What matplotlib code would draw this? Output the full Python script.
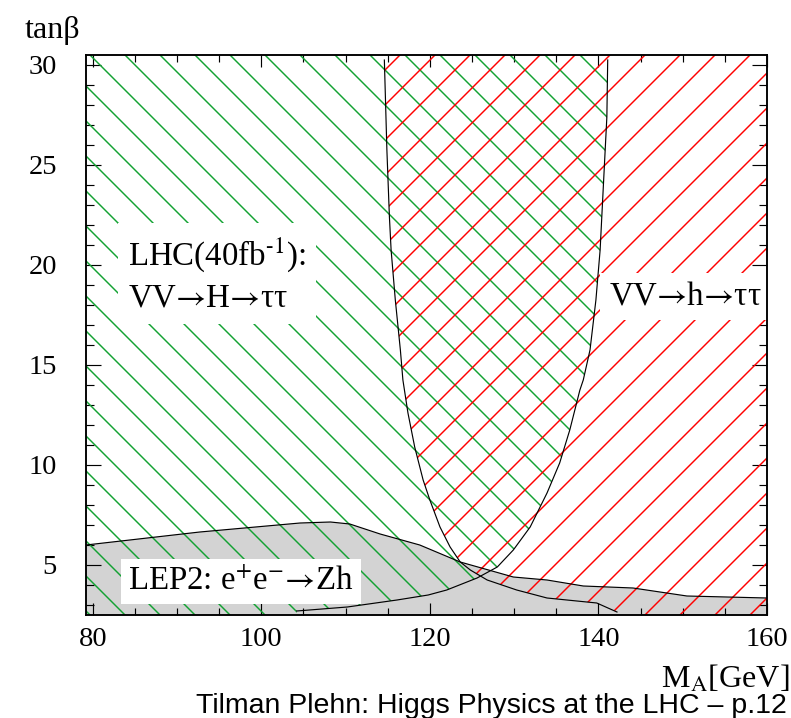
import numpy as np
import matplotlib
matplotlib.use('Agg')
import matplotlib.pyplot as plt
from matplotlib.patches import Polygon
from matplotlib.ticker import MultipleLocator

plt.rcParams['font.family'] = ['Liberation Serif', 'DejaVu Serif']
plt.rcParams['mathtext.fontset'] = 'stix'
plt.rcParams['hatch.linewidth'] = 1.0

# ---------------- data ----------------
x_limits = [79.2, 160.0]
y_limits = [2.5, 30.5]

# boundary of the VV->h->tautau region (left branch of the U, tail to low tan(beta))
red_bound_x = [114.6, 114.9, 115.2, 115.4, 115.9, 116.5, 116.8, 117.4, 118.2, 119.2,
               120.0, 121.2, 122.4, 123.6, 124.8, 126.8, 130.3, 133.9, 139.8, 142.2]
red_bound_y = [30.25, 25.75, 22.4, 20.75, 18.25, 15.75, 14.25, 12.6, 10.9, 9.25,
               8.25, 6.9, 5.9, 5.15, 4.75, 4.25, 3.75, 3.35, 3.1, 2.65]

# boundary of the VV->H->tautau region (right branch of the U, tail to low M_A)
green_bound_x = [141.1, 141.0, 140.8, 140.5, 140.2, 139.7, 139.0, 138.2, 137.8, 136.6,
                 135.4, 133.9, 131.9, 129.9, 128.0, 125.6, 122.0, 119.8, 116.1, 110.2, 104.2]
green_bound_y = [30.25, 27.4, 25.75, 23.25, 20.75, 18.25, 15.75, 14.25, 13.75, 11.75,
                 10.1, 8.6, 6.9, 5.75, 4.9, 4.35, 3.75, 3.5, 3.25, 2.9, 2.7]

# LEP2 excluded region upper boundary
lep_x = [79.2, 92.7, 104.6, 108.2, 110.5, 114.1, 118.8, 123.6, 129.9, 133.9,
         138.2, 144.1, 150.5, 160.0]
lep_y = [6.0, 6.65, 7.1, 7.15, 7.05, 6.55, 6.0, 5.15, 4.4, 4.25,
         3.95, 3.85, 3.45, 3.35]

x_major = [80, 100, 120, 140, 160]
y_major = [5, 10, 15, 20, 25, 30]

ARROW = '$→$'
label_lhc = 'LHC(40fb$^{\\text{-1}}$):\nVV' + ARROW + 'H' + ARROW + 'ττ'
label_h = 'VV' + ARROW + 'h' + ARROW + 'ττ'
label_lep = 'LEP2: e$^{+}$e$^{-}$' + ARROW + 'Zh'

GREEN = '#12a232'
RED = '#ff0000'
GRAY = '#d3d3d3'

# ---------------- figure ----------------
DPI = 105
fig = plt.figure(figsize=(791 / DPI, 718 / DPI), dpi=DPI)
ax = fig.add_axes([86 / 791, 1 - 615 / 718, 681 / 791, 560 / 718])
x0, x1 = x_limits
y0, y1 = y_limits

lep_poly = list(zip(lep_x, lep_y)) + [(x1, y0), (x0, y0)]
ax.add_patch(Polygon(lep_poly, closed=True, facecolor=GRAY, edgecolor='none', zorder=1))

green_poly = ([(x0, y1), (green_bound_x[0], y1)] + list(zip(green_bound_x, green_bound_y))
              + [(green_bound_x[-1], y0), (x0, y0)])
ax.add_patch(Polygon(green_poly, closed=True, facecolor='none', edgecolor=GREEN,
                     hatch='\\', linewidth=0, zorder=2))

red_poly = ([(red_bound_x[0], y1)] + list(zip(red_bound_x, red_bound_y))
            + [(red_bound_x[-1], y0), (x1, y0), (x1, y1)])
ax.add_patch(Polygon(red_poly, closed=True, facecolor='none', edgecolor=RED,
                     hatch='/', linewidth=0, zorder=2))

ax.plot(lep_x, lep_y, color='black', lw=0.8, zorder=3)
ax.plot(red_bound_x, red_bound_y, color='black', lw=0.8, zorder=3)
ax.plot(green_bound_x, green_bound_y, color='black', lw=0.8, zorder=3)

ax.set_xlim(x0, x1)
ax.set_ylim(y0, y1)
ax.set_xticks(x_major)
ax.set_yticks(y_major)
ax.set_xticklabels([str(v) for v in x_major])
ax.set_yticklabels([str(v) for v in y_major])
ax.xaxis.set_minor_locator(MultipleLocator(5))
ax.yaxis.set_minor_locator(MultipleLocator(1))
ax.tick_params(which='both', direction='in', top=True, right=True, width=0.8,
               labelsize=19.5)
ax.tick_params(axis='x', which='major', length=8.5, pad=8)
ax.tick_params(axis='y', which='major', length=10, pad=20)
ax.tick_params(axis='x', which='minor', length=4.5)
ax.tick_params(axis='y', which='minor', length=5.5)
for s in ax.spines.values():
    s.set_linewidth(1.3)
    s.set_zorder(6)

box = dict(boxstyle='square,pad=0.3', facecolor='white', edgecolor='none')
ax.text(84.2, 17.9, label_lhc, fontsize=22.5, va='baseline', ha='left',
        linespacing=1.42, bbox=box, zorder=5)
ax.text(141.2, 18.0, label_h, fontsize=22.5, va='baseline', ha='left',
        bbox=dict(boxstyle='square,pad=0.25', facecolor='white', edgecolor='none'),
        zorder=5)
ax.text(84.2, 3.75, label_lep, fontsize=22.5, va='baseline', ha='left',
        bbox=dict(boxstyle='square,pad=0.22', facecolor='white', edgecolor='none'), zorder=5)

fig.text(25 / 791, 1 - 38 / 718, 'tanβ', fontsize=22, va='baseline', ha='left')
fig.text(789 / 791, 1 - 688 / 718, 'M$_{\\mathrm{A}}$[GeV]', fontsize=22,
         va='baseline', ha='right')
fig.text(787 / 791, 1 - 713 / 718, 'Tilman Plehn: Higgs Physics at the LHC – p.12',
         fontsize=19.5, va='baseline', ha='right',
         family=['Liberation Sans', 'DejaVu Sans'])

fig.savefig('out.png', dpi=DPI)
